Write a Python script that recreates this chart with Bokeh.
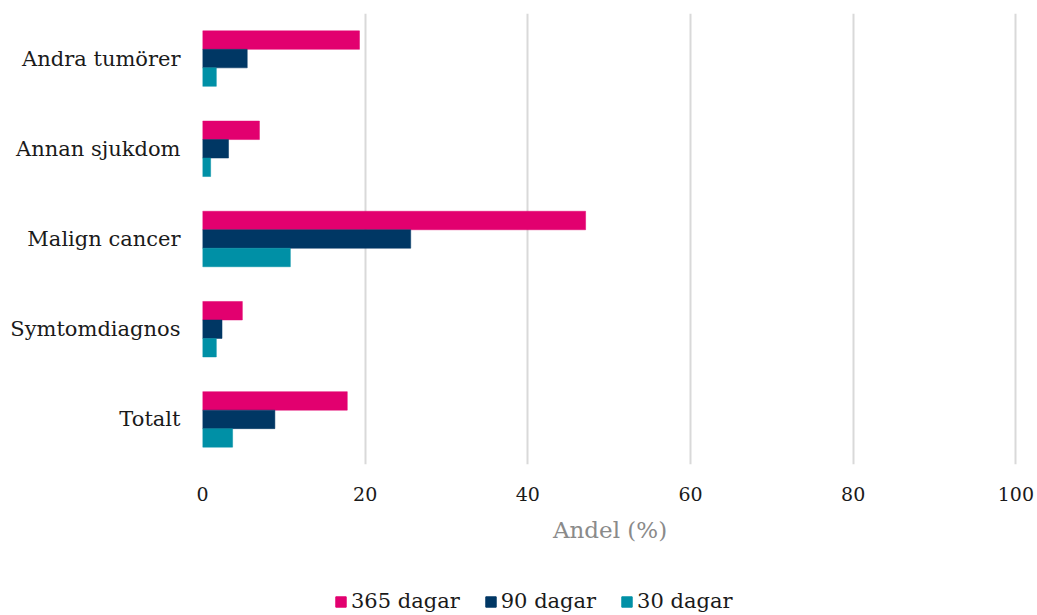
from bokeh.plotting import figure
from bokeh.layouts import column
from bokeh.models import (ColumnDataSource, FactorRange, Range1d, Legend, LegendItem,
                          FixedTicker)
from bokeh.transform import dodge
from bokeh.embed import file_html
from bokeh.resources import INLINE

# Andel (%) per diagnosgrupp och uppföljningstid
categories = ["Andra tumörer", "Annan sjukdom", "Malign cancer", "Symtomdiagnos", "Totalt"]
dagar_365 = [19.3, 7.0, 47.1, 4.9, 17.8]
dagar_90 = [5.5, 3.2, 25.6, 2.4, 8.9]
dagar_30 = [1.7, 1.0, 10.8, 1.7, 3.7]
series_labels = ["365 dagar", "90 dagar", "30 dagar"]
x_ticks = [0, 20, 40, 60, 80, 100]

colors = ["#E2006F", "#003764", "#0090A6"]
FONT = "DejaVu Serif"

source = ColumnDataSource(dict(cat=categories, d365=dagar_365, d90=dagar_90, d30=dagar_30))

p = figure(
    y_range=FactorRange(*reversed(categories)),
    x_range=Range1d(0, 100.2),
    frame_width=815, frame_height=451,
    min_border_left=202, min_border_top=13, min_border_right=20, min_border_bottom=101,
    output_backend="svg", toolbar_location=None,
    background_fill_color="white", border_fill_color="white",
)
p.outline_line_color = None

bar_h = 0.205
for col, off, color in zip(["d365", "d90", "d30"], [bar_h, 0.0, -bar_h], colors):
    p.hbar(y=dodge("cat", off, range=p.y_range), right=col, left=0, height=bar_h,
           source=source, fill_color=color, line_color=color, line_width=0.5)

# x axis
xa = p.xaxis[0]
xa.ticker = FixedTicker(ticks=x_ticks)
xa.axis_line_color = None
xa.major_tick_line_color = None
xa.minor_tick_line_color = None
xa.major_label_standoff = 16
xa.major_label_text_font = FONT
xa.major_label_text_font_size = "19px"
xa.major_label_text_color = "#1a1a1a"
xa.axis_label = "Andel (%)"
xa.axis_label_text_font = FONT
xa.axis_label_text_font_size = "23px"
xa.axis_label_text_font_style = "normal"
xa.axis_label_text_color = "#8a8a8a"
xa.axis_label_standoff = 13

# y axis
ya = p.yaxis[0]
ya.axis_line_color = None
ya.major_tick_line_color = None
ya.minor_tick_line_color = None
ya.major_label_standoff = 16
ya.major_label_text_font = FONT
ya.major_label_text_font_size = "21px"
ya.major_label_text_color = "#1a1a1a"

p.ygrid.grid_line_color = None
p.xgrid.grid_line_color = "#d9d9d9"
p.xgrid.grid_line_width = 2

# legend strip underneath the chart (its frame lines up with the chart's frame)
leg = figure(
    width=1037, height=50, x_range=Range1d(0, 1), y_range=Range1d(0, 1),
    x_axis_type=None, y_axis_type=None, min_border=0,
    output_backend="svg", toolbar_location=None,
    background_fill_color="white", border_fill_color="white",
)
leg.outline_line_color = None
leg.grid.grid_line_color = None

# zero-length placeholder bars outside the strip's range, only used as legend swatches
swatches = []
for color in colors:
    r = leg.hbar(y=[-5], left=[0], right=[0], height=0.5,
                 fill_color=color, line_color=color)
    swatches.append(r)

legend = Legend(
    items=[LegendItem(label=lab, renderers=[r]) for lab, r in zip(series_labels, swatches)],
    orientation="horizontal",
    location=(132, 2),
    label_text_font=FONT,
    label_text_font_size="21px",
    label_text_color="#1a1a1a",
    glyph_width=13, glyph_height=13,
    label_standoff=4, spacing=24,
    border_line_color=None, background_fill_alpha=0,
    margin=0, padding=0,
)
leg.add_layout(legend, "center")

layout = column(p, leg, spacing=0)
open("out.html", "w").write(file_html(layout, INLINE))
